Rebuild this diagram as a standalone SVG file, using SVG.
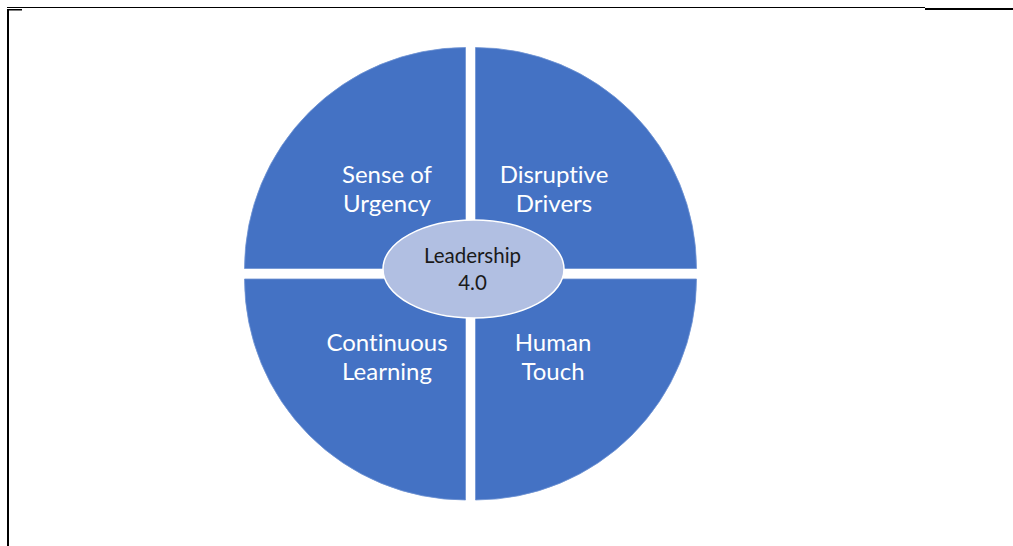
<svg xmlns="http://www.w3.org/2000/svg" width="1013" height="546" viewBox="0 0 1013 546">
  <style>
    .quad { fill: #4472C4; stroke: #6F93D3; stroke-width: 0.8; }
    .label { font-family: Lato, "Open Sans", "Liberation Sans", sans-serif; font-size: 24px; fill: #FFFFFF; text-anchor: middle; font-variant-ligatures: none; }
    .hub-text { font-family: Lato, "Open Sans", "Liberation Sans", sans-serif; font-size: 20.5px; fill: #1A1A1A; text-anchor: middle; font-variant-ligatures: none; }
    .rule { fill: #000000; }
  </style>

  <rect width="1013" height="546" fill="#FFFFFF"/>

  <!-- page frame lines -->
  <g id="frame">
    <rect class="rule" x="7" y="7" width="918" height="1"/>
    <rect class="rule" x="925" y="8" width="88" height="2"/>
    <rect class="rule" x="7" y="9" width="15" height="1.5"/>
    <rect class="rule" x="7" y="9" width="2" height="537"/>
  </g>

  <!-- no connectors in this diagram -->
  <g id="connectors"></g>

  <g id="sense-of-urgency">
    <path class="quad" d="M465.5,268.5 L244.5,268.5 A221,221 0 0 1 465.5,47.5 Z"/>
    <text class="label" x="387" y="183">Sense of</text>
    <text class="label" x="387" y="212">Urgency</text>
  </g>

  <g id="disruptive-drivers">
    <path class="quad" d="M475.5,268.5 L475.5,47.5 A221,221 0 0 1 696.5,268.5 Z"/>
    <text class="label" x="554" y="183">Disruptive</text>
    <text class="label" x="554" y="212">Drivers</text>
  </g>

  <g id="human-touch">
    <path class="quad" d="M475.5,279 L696.5,279 A221,221 0 0 1 475.5,500 Z"/>
    <text class="label" x="553" y="351">Human</text>
    <text class="label" x="553" y="380">Touch</text>
  </g>

  <g id="continuous-learning">
    <path class="quad" d="M465.5,279 L465.5,500 A221,221 0 0 1 244.5,279 Z"/>
    <text class="label" x="387" y="351">Continuous</text>
    <text class="label" x="387" y="380">Learning</text>
  </g>

  <g id="leadership">
    <ellipse cx="473.5" cy="269" rx="90.5" ry="49" fill="#B1BFE2" stroke="#FFFFFF" stroke-width="1.5"/>
    <text class="hub-text" x="472.5" y="263">Leadership</text>
    <text class="hub-text" x="472.5" y="290">4.0</text>
  </g>
</svg>
